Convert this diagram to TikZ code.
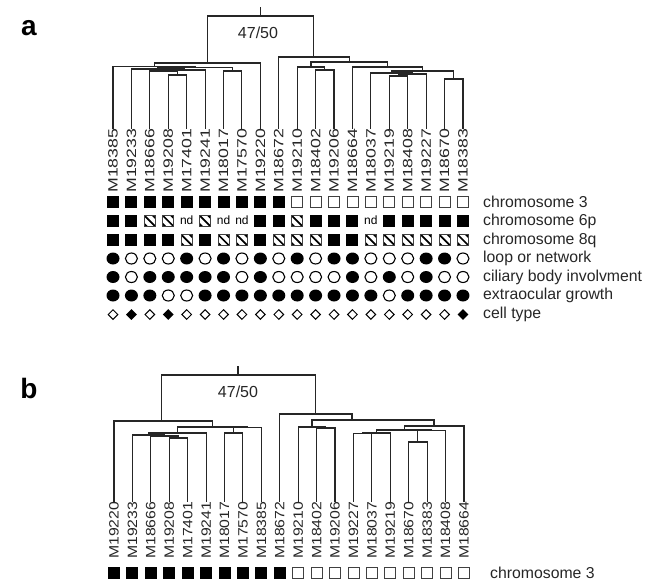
\documentclass[tikz,border=0pt]{standalone}
\usepackage{fontspec}
\setmainfont{Liberation Sans}
\usetikzlibrary{shapes.geometric}
\newcommand{\dendU}[5]{\draw (#1,#2) -- (#1,#5) -- (#3,#5) -- (#3,#4);}
\tikzset{
  tree/.style={line width=1.1pt, line cap=rect, black!85},
  fsq/.style={rectangle, fill=black, minimum size=12pt, inner sep=0pt},
  osq/.style={rectangle, draw=black!75, line width=0.9pt, minimum size=11pt, inner sep=0pt},
  hsq/.style={rectangle, draw=black!75, line width=0.9pt, minimum size=11pt, inner sep=0pt,
    path picture={
      \foreach \d in {-4.2,0,4.2}{
        \draw[line width=1.7pt, black] ([shift={(-10+\d,-10-\d)}]path picture bounding box.center) -- ++(20,20);
      }}},
  ndtxt/.style={font=\fontsize{12}{12}\selectfont, inner sep=0pt},
  fcir/.style={ellipse, fill=black, minimum width=13pt, minimum height=12pt, inner sep=0pt},
  ocir/.style={ellipse, draw=black, line width=1.1pt, minimum width=12pt, minimum height=11pt, inner sep=0pt},
  fdia/.style={diamond, fill=black, minimum width=11pt, minimum height=11pt, inner sep=0pt},
  odia/.style={diamond, draw=black, line width=1pt, minimum width=10pt, minimum height=10pt, inner sep=0pt},
  rowlab/.style={anchor=west, font=\fontsize{15.8}{15.8}\selectfont, inner sep=0pt, text=black!85},
  leaflab/.style={rotate=90, anchor=east, inner sep=0pt, font=\fontsize{13.5}{13.5}\selectfont, text=black!85},
  boot/.style={font=\fontsize{16}{16}\selectfont, inner sep=0pt, text=black!85},
  panel/.style={font=\fontsize{28}{28}\selectfont\bfseries, inner sep=0pt},
}
\begin{document}
\begin{tikzpicture}[x=1pt,y=-1pt]
\useasboundingbox (0,0) rectangle (658,582);
% ---------------- panel a ----------------
\node[panel] (pa) at (29,28) {a};
\node[boot] (ba) at (258,33) {47/50};
\begin{scope}[tree]
\draw (260.6,8) -- (260.6,16);
\dendU{207.3}{63}{313.9}{57}{16}
% left cluster
\dendU{168.3}{128}{186.7}{128}{75}
\dendU{149.8}{128}{177.5}{75}{71}
\dendU{163.65}{71}{205.1}{128}{70}
\dendU{131.4}{128}{184.4}{70}{69}
\dendU{223.5}{128}{241.9}{128}{71}
\dendU{157.9}{69}{232.7}{71}{67.5}
\dendU{113}{128}{195.3}{67.5}{66.5}
\dendU{154.2}{66.5}{260.4}{128}{63}
% right cluster
\dendU{315.6}{128}{334}{128}{70}
\dendU{297.2}{128}{324.8}{70}{67}
\dendU{389.3}{128}{407.7}{128}{76}
\dendU{398.5}{76}{426.1}{128}{74}
\dendU{370.9}{128}{412.3}{74}{73}
\dendU{444.6}{128}{463}{128}{79}
\dendU{391.6}{73}{453.8}{79}{71}
\dendU{352.5}{128}{422.7}{71}{67}
\dendU{311}{67}{387.6}{67}{62}
\dendU{278.8}{128}{349.3}{62}{57}
\end{scope}
\foreach \n [count=\i from 0] in {M18385,M19233,M18666,M19208,M17401,M19241,M18017,M17570,M19220,M18672,M19210,M18402,M19206,M18664,M18037,M19219,M18408,M19227,M18670,M18383}{
  \node[leaflab] (la\i) at ({113+18.42*\i},128.5) {\scalebox{1.31}[1]{\n}};
}
% rows
\foreach \c [count=\i from 0] in {f,f,f,f,f,f,f,f,f,f,o,o,o,o,o,o,o,o,o,o}{
  \node[\c sq] (ra\i) at ({113+18.42*\i},202) {};
}
\foreach \c [count=\i from 0] in {f,f,h,h,n,h,n,n,f,f,h,f,f,f,n,f,f,f,f,f}{
  \if n\c \node[ndtxt] (rb\i) at ({113+18.42*\i},220.5) {nd};
  \else \node[\c sq] (rb\i) at ({113+18.42*\i},221) {}; \fi
}
\foreach \c [count=\i from 0] in {f,f,f,f,h,f,h,h,f,h,h,h,f,f,h,h,h,h,h,h}{
  \node[\c sq] (rc\i) at ({113+18.42*\i},240) {};
}
\foreach \c [count=\i from 0] in {f,o,o,o,f,o,f,o,f,o,f,o,f,f,o,o,o,f,f,o}{
  \node[\c cir] (rd\i) at ({113+18.42*\i},258.5) {};
}
\foreach \c [count=\i from 0] in {f,o,f,f,f,f,f,o,f,o,o,o,o,f,o,f,o,f,o,o}{
  \node[\c cir] (re\i) at ({113+18.42*\i},277) {};
}
\foreach \c [count=\i from 0] in {f,f,f,o,o,f,f,f,f,f,f,f,f,f,f,o,f,f,f,f}{
  \node[\c cir] (rf\i) at ({113+18.42*\i},295.5) {};
}
\foreach \c [count=\i from 0] in {o,f,o,f,o,o,o,o,o,o,o,o,o,o,o,o,o,o,o,f}{
  \node[\c dia] (rg\i) at ({113+18.42*\i},314.5) {};
}
\node[rowlab] (ta) at (483,202) {chromosome 3};
\node[rowlab] (tb) at (483,221) {chromosome 6p};
\node[rowlab] (tc) at (483,240) {chromosome 8q};
\node[rowlab] (td) at (483,258.5) {loop or network};
\node[rowlab] (te) at (483,277) {ciliary body involvment};
\node[rowlab] (tf) at (483,295.5) {extraocular growth};
\node[rowlab] (tg) at (483,314.5) {cell type};
% ---------------- panel b ----------------
\node[panel] (pb) at (29,388) {b};
\node[boot] (bb) at (238,392) {47/50};
\begin{scope}[tree]
\draw (238,367) -- (238,375);
\dendU{161.5}{421}{315.5}{414}{375}
\dendU{169.3}{501}{187.7}{501}{438}
\dendU{150.8}{501}{178.5}{438}{436}
\dendU{132.4}{501}{164.65}{436}{435}
\dendU{148.5}{435}{206.1}{501}{433}
\dendU{224.5}{501}{242.9}{501}{433}
\dendU{233.7}{433}{261.4}{501}{427.5}
\dendU{177.3}{433}{247.55}{427.5}{427}
\dendU{114}{501}{212.4}{427}{421}
% right
\dendU{316.6}{501}{335}{501}{428}
\dendU{298.2}{501}{325.8}{428}{427}
\dendU{353.5}{501}{371.9}{501}{433.5}
\dendU{362.7}{433.5}{390.3}{501}{433}
\dendU{408.7}{501}{427.1}{501}{442}
\dendU{417.9}{442}{445.6}{501}{430.5}
\dendU{376.5}{433}{431.75}{430.5}{430}
\dendU{404.1}{430}{464}{501}{426}
\dendU{312}{427}{434}{426}{420}
\dendU{279.8}{501}{352}{420}{414}
\end{scope}
\foreach \n [count=\i from 0] in {M19220,M19233,M18666,M19208,M17401,M19241,M18017,M17570,M18385,M18672,M19210,M18402,M19206,M19227,M18037,M19219,M18670,M18383,M18408,M18664}{
  \node[leaflab] (lb\i) at ({114+18.42*\i},501.5) {\scalebox{1.17}[1]{\n}};
}
\foreach \c [count=\i from 0] in {f,f,f,f,f,f,f,f,f,f,o,o,o,o,o,o,o,o,o,o}{
  \node[\c sq] (rh\i) at ({114+18.42*\i},572.5) {};
}
\node[rowlab] (th) at (490,572.5) {chromosome 3};
\end{tikzpicture}
\end{document}
